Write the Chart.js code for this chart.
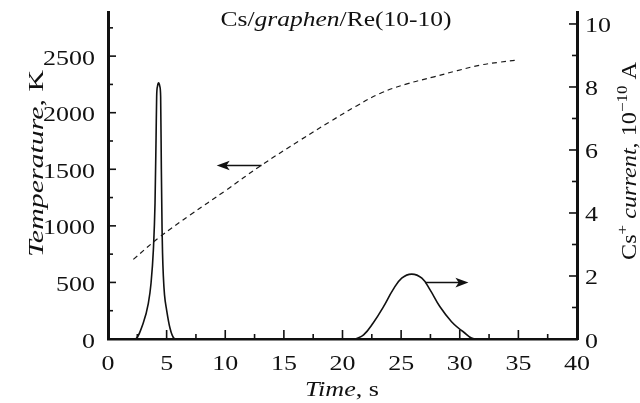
<!DOCTYPE html>
<html><head><meta charset="utf-8">
<script src="https://cdn.jsdelivr.net/npm/chart.js@4.4.1/dist/chart.umd.min.js"></script>
<style>html,body{margin:0;padding:0;background:#fff}#wrap{width:640px;height:403px;position:relative}</style>
</head><body><div id="wrap"><canvas id="c"></canvas></div>
<script>
// ---- data ----
const timeT = [2.16, 4.44, 7, 10, 13.1, 16.4, 19, 21.2, 23.2, 25.5, 27.8, 29.8, 31.7, 33.3, 34.9];
const tempK = [704, 904, 1095, 1310, 1537, 1758, 1925, 2060, 2170, 2255, 2317, 2372, 2420, 2445, 2465];

// Cs+ current, first (sharp) peak
const timeI1 = [0, 2.3, 3.0, 3.44, 3.67, 3.87, 4.01, 4.10, 4.15, 4.22, 4.32, 4.42, 4.49, 4.55, 4.61, 4.65, 4.72, 4.82, 5.0, 5.29, 5.63, 5.8, 21.1];
const currentI1 = [0, 0, 0.5, 1.13, 1.77, 2.83, 4.3, 6.4, 7.7, 8.02, 8.13, 8.02, 7.7, 5.4, 3.5, 2.75, 2.0, 1.4, 0.92, 0.34, 0.02, 0, 0];
// Cs+ current, second (broad) peak
const timeI2 = [21.1, 21.8, 22.6, 23.5, 24.3, 25.05, 25.9, 26.77, 27.47, 28.3, 29.3, 30.3, 31.3, 40];
const currentI2 = [0, 0.13, 0.5, 1.03, 1.56, 1.93, 2.06, 1.93, 1.56, 1.03, 0.55, 0.23, 0, 0];

const xTicks = [0, 5, 10, 15, 20, 25, 30, 35, 40];
const xMinor = [2.5, 7.5, 12.5, 17.5, 22.5, 27.5, 32.5, 37.5];
const tempTicks = [0, 500, 1000, 1500, 2000, 2500];
const tempMinor = [250, 750, 1250, 1750, 2250, 2750];
const currTicks = [0, 2, 4, 6, 8, 10];
const currMinor = [1, 3, 5, 7, 9];

const arrowTemp = [13.1, 9.27, 1534];   // from x, to x, at temperature
const arrowCurr = [27.05, 30.74, 1.79]; // from x, to x, at current

const FONT = "'Liberation Serif','Times New Roman',serif";

function fnt(r, size) { const s = r.sup ? size * 0.7 : size; return (r.it ? 'italic ' : '') + s + 'px ' + FONT; }
function runsWidth(ctx, runs, size) { let w = 0; for (const r of runs) { ctx.font = fnt(r, size); w += ctx.measureText(r.t).width; } return w; }
function drawRuns(ctx, runs, size, x, y, o) {
  o = o || {};
  const W = runsWidth(ctx, runs, size);
  const s = o.target ? o.target / W : (o.sx || 1);
  const align = o.align || 'center';
  ctx.save(); ctx.translate(x, y); if (o.rot) ctx.rotate(o.rot); ctx.scale(s, 1);
  let cx = align === 'center' ? -W / 2 : align === 'right' ? -W : 0;
  ctx.textAlign = 'left'; ctx.textBaseline = 'alphabetic'; ctx.fillStyle = '#111';
  for (const r of runs) { ctx.font = fnt(r, size); ctx.fillText(r.t, cx, r.sup ? -size * 0.45 : 0); cx += ctx.measureText(r.t).width; }
  ctx.restore();
}

const bg = { id: 'bg', beforeDraw(c) { const x = c.ctx; x.save(); x.fillStyle = '#fff'; x.fillRect(0, 0, c.width, c.height); x.restore(); } };

const deco = {
  id: 'deco',
  afterDatasetsDraw(c) {
    const ctx = c.ctx, xs = c.scales.x, yL = c.scales.yL, yR = c.scales.yR;
    ctx.save();
    ctx.strokeStyle = '#111'; ctx.fillStyle = '#111'; ctx.lineWidth = 1.5;
    function arrow(x0, x1, y) {
      const dir = Math.sign(x1 - x0), L = 13, H = 4.8;
      ctx.beginPath(); ctx.moveTo(x0, y); ctx.lineTo(x1 - dir * L * 0.6, y); ctx.stroke();
      ctx.beginPath(); ctx.moveTo(x1, y); ctx.lineTo(x1 - dir * L, y - H); ctx.lineTo(x1 - dir * L * 0.75, y); ctx.lineTo(x1 - dir * L, y + H); ctx.closePath(); ctx.fill();
    }
    arrow(xs.getPixelForValue(arrowTemp[0]), xs.getPixelForValue(arrowTemp[1]), yL.getPixelForValue(arrowTemp[2]));
    arrow(xs.getPixelForValue(arrowCurr[0]), xs.getPixelForValue(arrowCurr[1]), yR.getPixelForValue(arrowCurr[2]));
    ctx.restore();
  },
  afterDraw(c) {
    const ctx = c.ctx, a = c.chartArea, xs = c.scales.x, yL = c.scales.yL, yR = c.scales.yR;
    ctx.save();
    ctx.strokeStyle = '#111'; ctx.lineWidth = 1.6;
    const ln = (x0, y0, x1, y1) => { ctx.beginPath(); ctx.moveTo(x0, y0); ctx.lineTo(x1, y1); ctx.stroke(); };
    tempTicks.forEach(v => { const y = yL.getPixelForValue(v); ln(a.left, y, a.left + 8, y); });
    tempMinor.forEach(v => { const y = yL.getPixelForValue(v); ln(a.left, y, a.left + 5, y); });
    currTicks.forEach(v => { const y = yR.getPixelForValue(v); ln(a.right, y, a.right - 8, y); });
    currMinor.forEach(v => { const y = yR.getPixelForValue(v); ln(a.right, y, a.right - 5, y); });
    xTicks.forEach(v => { const x = xs.getPixelForValue(v); ln(x, a.bottom, x, a.bottom - 9); });
    xMinor.forEach(v => { const x = xs.getPixelForValue(v); ln(x, a.bottom, x, a.bottom - 5); });
    ctx.restore();

    const TS = 22, TSX = 1.18;
    tempTicks.forEach(v => drawRuns(ctx, [{ t: String(v) }], TS, a.left - 13, yL.getPixelForValue(v) + 8.5, { sx: TSX, align: 'right' }));
    currTicks.forEach(v => drawRuns(ctx, [{ t: String(v) }], TS, a.right + 8, yR.getPixelForValue(v) + 8.5, { sx: TSX, align: 'left' }));
    xTicks.forEach(v => drawRuns(ctx, [{ t: String(v) }], TS, xs.getPixelForValue(v), a.bottom + 31, { sx: TSX, align: 'center' }));

    // title
    drawRuns(ctx, [{ t: 'Cs/' }, { t: 'graphen', it: true }, { t: '/Re(10-10)' }], 20, 336, 26, { target: 231 });
    // axis titles
    drawRuns(ctx, [{ t: 'Time', it: true }, { t: ', s' }], 21, 342, 396, { target: 74 });
    drawRuns(ctx, [{ t: 'Temperature', it: true }, { t: ', K' }], 21, 43, 163.5, { target: 187, rot: -Math.PI / 2 });
    drawRuns(ctx, [{ t: 'Cs' }, { t: '+', sup: true }, { t: ' ' }, { t: 'current', it: true }, { t: ', 10' }, { t: '\u221210', sup: true }, { t: ' A' }],
      21, 636, 161, { target: 198, rot: -Math.PI / 2 });
  }
};

const tempData = timeT.map((t, i) => ({ x: t, y: tempK[i] }));
const currData1 = timeI1.map((t, i) => ({ x: t, y: currentI1[i] }));
const currData2 = timeI2.map((t, i) => ({ x: t, y: currentI2[i] }));

function build() {
  new Chart(document.getElementById('c'), {
    type: 'line',
    data: {
      datasets: [
        { label: 'Temperature', data: tempData, yAxisID: 'yL', borderColor: '#1a1a1a', borderWidth: 1.2, borderDash: [5, 4],
          pointRadius: 0, fill: false, tension: 0.4 },
        { label: 'Cs+ current', data: currData1, yAxisID: 'yR', borderColor: '#111', borderWidth: 1.6,
          pointRadius: 0, fill: false, cubicInterpolationMode: 'monotone' },
        { label: 'Cs+ current (2)', data: currData2, yAxisID: 'yR', borderColor: '#111', borderWidth: 1.6,
          pointRadius: 0, fill: false, tension: 0.4 }
      ]
    },
    options: {
      responsive: true, maintainAspectRatio: false, animation: false,
      layout: { padding: { top: 12, left: 0, right: 0, bottom: 0 } },
      plugins: { legend: { display: false }, tooltip: { enabled: false }, title: { display: false } },
      scales: {
        x: { type: 'linear', position: 'bottom', min: 0, max: 40,
          grid: { display: false }, border: { display: true, width: 2.6, color: '#111' },
          ticks: { display: false, stepSize: 5 },
          afterFit(s) { s.height = 64; } },
        yL: { type: 'linear', position: 'left', min: 0, max: 2890,
          grid: { display: false }, border: { display: true, width: 3, color: '#111' },
          ticks: { display: false, stepSize: 500 },
          afterFit(s) { s.width = 108; } },
        yR: { type: 'linear', position: 'right', min: 0, max: 10.38,
          grid: { display: false }, border: { display: true, width: 3, color: '#111' },
          ticks: { display: false, stepSize: 2 },
          afterFit(s) { s.width = 63; } }
      }
    },
    plugins: [bg, deco]
  });
}

const loads = ['20px "Liberation Serif"', 'italic 20px "Liberation Serif"'].map(f => document.fonts ? document.fonts.load(f) : Promise.resolve());
Promise.all(loads).then(build, build);
</script>
</body></html>
